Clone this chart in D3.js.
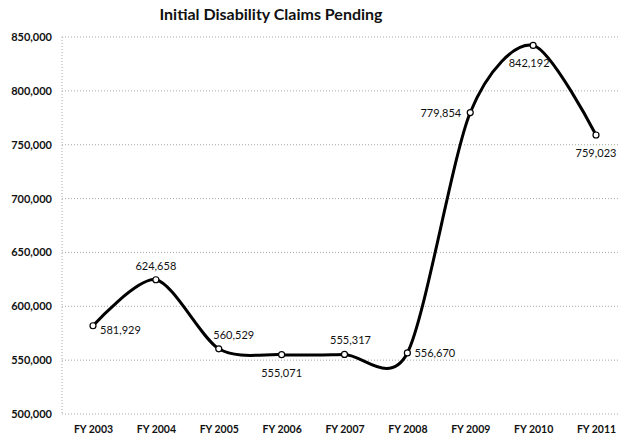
<!DOCTYPE html>
<html>
<head>
<meta charset="utf-8">
<script src="https://cdn.jsdelivr.net/npm/d3@7"></script>
<style>
  html, body { margin: 0; padding: 0; background: #fff; }
  svg { display: block; }
  text { font-family: Lato, "Open Sans", sans-serif; fill: #111; }
</style>
</head>
<body>
<svg id="chart" width="618" height="442"></svg>
<script>
// Fiscal years and pending initial disability claims
const years = ["FY 2003", "FY 2004", "FY 2005", "FY 2006", "FY 2007", "FY 2008", "FY 2009", "FY 2010", "FY 2011"];
const pending = [581929, 624658, 560529, 555071, 555317, 556670, 779854, 842192, 759023];
const yTicks = [500000, 550000, 600000, 650000, 700000, 750000, 800000, 850000];
const title = "Initial Disability Claims Pending";

const svg = d3.select("#chart");
const plotLeft = 62, plotRight = 618, plotTop = 37, plotBottom = 414;

const x = d3.scalePoint().domain(years).range([93, 596]);
const y = d3.scaleLinear().domain([500000, 850000]).range([plotBottom, plotTop]);
const fmt = d3.format(",");

// title
svg.append("text")
  .attr("x", 271).attr("y", 20)
  .attr("text-anchor", "middle")
  .style("font-size", "16px").style("font-weight", "bold")
  .text(title);

// horizontal gridlines (dotted)
svg.append("g").selectAll("line").data(yTicks).join("line")
  .attr("x1", plotLeft).attr("x2", plotRight)
  .attr("y1", d => y(d)).attr("y2", d => y(d))
  .attr("stroke", "#a8a8a8").attr("stroke-width", 1)
  .attr("stroke-dasharray", "1,2");

// vertical axis line
svg.append("line")
  .attr("x1", plotLeft).attr("x2", plotLeft)
  .attr("y1", plotTop).attr("y2", plotBottom)
  .attr("stroke", "#a8a8a8").attr("stroke-dasharray", "1,2");

// y axis labels
const yAxis = d3.axisLeft(y).tickValues(yTicks).tickFormat(fmt).tickSize(0).tickPadding(10);
const gy = svg.append("g").attr("transform", `translate(${plotLeft},0)`).call(yAxis);
gy.select(".domain").remove();
gy.selectAll("text")
  .style("font-family", "Lato, 'Open Sans', sans-serif")
  .style("font-size", "11px").style("font-weight", "bold").attr("fill", "#111");

// x axis labels
const xAxis = d3.axisBottom(x).tickSize(0).tickPadding(12);
const gx = svg.append("g").attr("transform", `translate(0,${plotBottom})`).call(xAxis);
gx.select(".domain").remove();
gx.selectAll("text")
  .style("font-family", "Lato, 'Open Sans', sans-serif")
  .style("font-size", "10.5px").style("font-weight", "bold").attr("fill", "#111");

// smoothed line
const line = d3.line()
  .x((d, i) => x(years[i]))
  .y(d => y(d))
  .curve(d3.curveCardinal.tension(0.15));

svg.append("path")
  .datum(pending)
  .attr("d", line)
  .attr("fill", "none")
  .attr("stroke", "#000")
  .attr("stroke-width", 3)
  .attr("stroke-linejoin", "round");

// markers
svg.append("g").selectAll("circle").data(pending).join("circle")
  .attr("cx", (d, i) => x(years[i]))
  .attr("cy", d => y(d))
  .attr("r", 3)
  .attr("fill", "#fff")
  .attr("stroke", "#000")
  .attr("stroke-width", 1.2);

// value labels: placement around each marker
const place = ["right", "above", "above", "below", "above", "right", "left", "below", "below"];
svg.append("g").selectAll("text").data(pending).join("text")
  .attr("x", (d, i) => {
    const px = x(years[i]);
    if (place[i] === "right") return px + 7;
    if (place[i] === "left") return px - 9;
    if (i === 2) return px + 15;
    if (i === 4) return px + 6;
    if (i === 7) return px - 4;
    return px;
  })
  .attr("y", (d, i) => {
    const py = y(d);
    if (place[i] === "above") return py - 10;
    if (place[i] === "below") return py + 22;
    if (i === 0) return py + 8;
    return py + 4;
  })
  .attr("text-anchor", (d, i) => place[i] === "right" ? "start" : place[i] === "left" ? "end" : "middle")
  .style("font-size", "11px")
  .text(d => fmt(d));
</script>
</body>
</html>
